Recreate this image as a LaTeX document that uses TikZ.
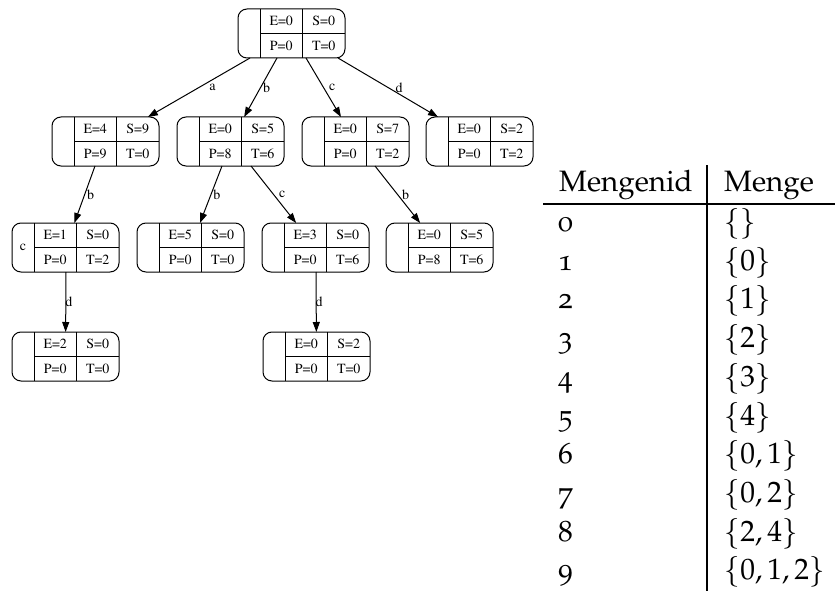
\documentclass[tikz,border=0pt]{standalone}
\usepackage[T1]{fontenc}
\usepackage[osf]{mathpazo}
\usepackage{tikz}
\usetikzlibrary{arrows.meta}
\usetikzlibrary{positioning}

\newcommand{\gvfont}{\fontfamily{ptm}\fontsize{14}{16}\selectfont}
\newcommand{\tabfont}{\fontfamily{pplj}\fontsize{29.5}{35}\selectfont}

\tikzstyle{rec}=[draw, rounded corners=9pt, minimum width=107pt,
                minimum height=49pt, inner sep=0, outer sep=0, line width=1pt]
\tikzstyle{cell}=[minimum width=42.5pt, minimum height=24.5pt, inner sep=0,
                outer sep=0, font=\gvfont]
\tikzstyle{elabel}=[font=\gvfont, inner sep=1pt]
\tikzstyle{edge}=[line width=1pt, -{Triangle[length=10pt,width=7pt]}]
\tikzstyle{tab}=[font=\tabfont, anchor=base west, inner sep=0]

% record: name, top left corner, field, E, S, P, T
\newcommand{\rec}[7]{
  \node[rec, anchor=north west] (#1) at (#2) {};
  \node[cell, anchor=north west] (#1-e) at ([xshift=22pt]#1.north west) {E=#4};
  \node[cell, anchor=north west] (#1-s) at (#1-e.north east) {S=#5};
  \node[cell, anchor=north west] (#1-p) at (#1-e.south west) {P=#6};
  \node[cell, anchor=north west] (#1-t) at (#1-p.north east) {T=#7};
  \node[font=\gvfont, inner sep=0] (#1-f) at ([xshift=11pt]#1.west) {#3};
  \draw[line width=1pt] (#1-e.north west) -- (#1-p.south west)
    (#1-e.north east) -- (#1-p.south east)
    (#1-e.south west) -- (#1-s.south east);
}

\begin{document}
\begin{tikzpicture}[x=1pt,y=-1pt]
    \useasboundingbox (0,0) rectangle (835,591);
    % search tree
    \rec{root}{238,9}{}{0}{0}{0}{0}
    \rec{na}{52,117}{}{4}{9}{9}{0}
    \rec{nb}{177,117}{}{0}{5}{8}{6}
    \rec{nc}{302,117}{}{0}{7}{0}{2}
    \rec{nd}{426,117}{}{0}{2}{0}{2}
    \rec{nab}{12,223}{c}{1}{0}{0}{2}
    \rec{nbb}{137,223}{}{5}{0}{0}{0}
    \rec{nbc}{262,223}{}{3}{0}{0}{6}
    \rec{ncb}{386,223}{}{0}{5}{8}{6}
    \rec{nabd}{12,332}{}{2}{0}{0}{0}
    \rec{nbcd}{263,332}{}{0}{2}{0}{0}
    \draw[edge] ([xshift=12pt]root.south west) -- node[elabel, right=9pt] {a} (na);
    \draw[edge] ([xshift=39pt]root.south west) -- node[elabel, right=1pt] {b} (nb);
    \draw[edge] ([xshift=68pt]root.south west) -- node[elabel, right=4pt] {c} (nc);
    \draw[edge] ([xshift=100pt]root.south west) -- node[elabel, right=6pt] {d} (nd);
    \draw[edge] ([xshift=43pt]na.south west) -- node[elabel, right=1pt] {b} (nab);
    \draw[edge] ([xshift=45pt]nb.south west) -- node[elabel, right=1pt] {b} (nbb);
    \draw[edge] ([xshift=74pt]nb.south west) -- node[elabel, right=4pt] {c} (nbc);
    \draw[edge] ([xshift=73pt]nc.south west) -- node[elabel, right=3pt] {b} (ncb);
    \draw[edge] ([xshift=54pt]nab.south west) -- node[elabel, right=-2pt] {d} (nabd);
    \draw[edge] ([xshift=54pt]nbc.south west) -- node[elabel, right=-2pt] {d} (nbcd);

    % set table
    \draw[line width=1.2pt] (707,165) -- (707,591);
    \draw[line width=1.2pt] (543,204) -- (835,204);
    \node[tab] (hid) at (559,191) {Mengenid};
    \node[tab] (hset) at (724,191) {Menge};
    \node[tab] (id0) at (558,231) {0};  \node[tab] (set0) at (724,231) {$\{\}$};
    \node[tab] (id1) at (558,270) {1};  \node[tab] (set1) at (724,270) {$\{0\}$};
    \node[tab] (id2) at (558,308) {2};  \node[tab] (set2) at (724,308) {$\{1\}$};
    \node[tab] (id3) at (558,347) {3};  \node[tab] (set3) at (724,347) {$\{2\}$};
    \node[tab] (id4) at (558,386) {4};  \node[tab] (set4) at (724,386) {$\{3\}$};
    \node[tab] (id5) at (558,425) {5};  \node[tab] (set5) at (724,425) {$\{4\}$};
    \node[tab] (id6) at (558,463) {6};  \node[tab] (set6) at (724,463) {$\{0,1\}$};
    \node[tab] (id7) at (558,502) {7};  \node[tab] (set7) at (724,502) {$\{0,2\}$};
    \node[tab] (id8) at (558,541) {8};  \node[tab] (set8) at (724,541) {$\{2,4\}$};
    \node[tab] (id9) at (558,579) {9};  \node[tab] (set9) at (724,579) {$\{0,1,2\}$};
\end{tikzpicture}
\end{document}
